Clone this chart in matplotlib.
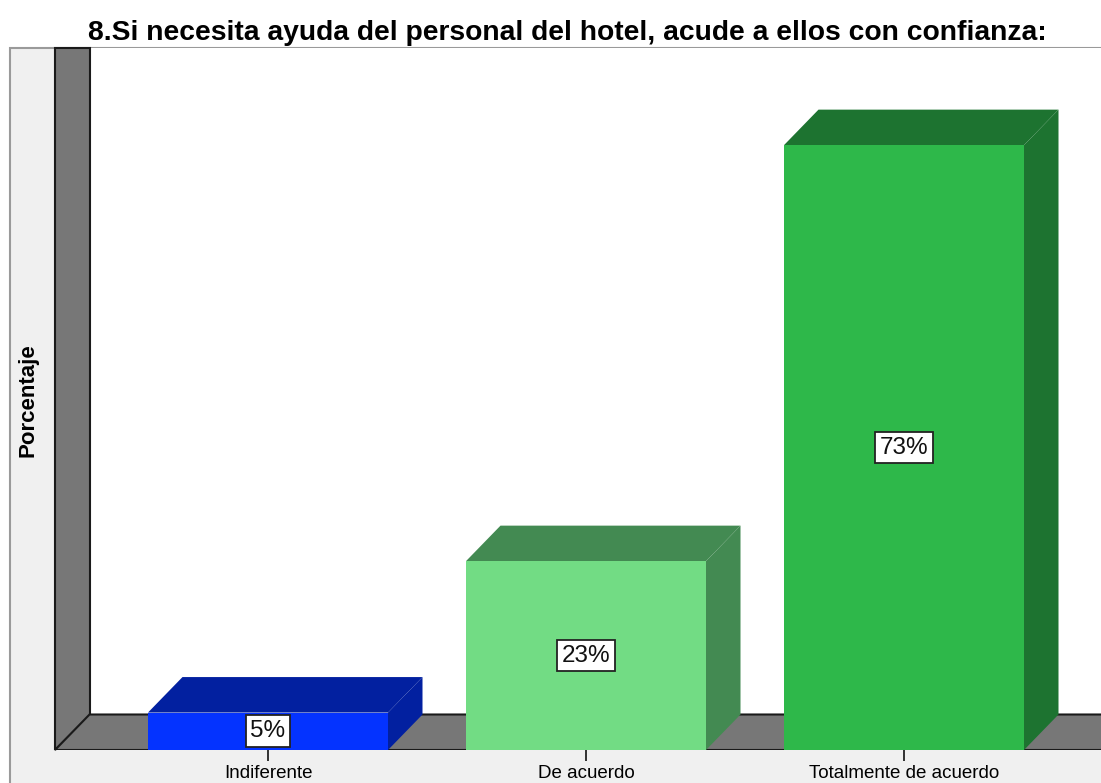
import matplotlib
matplotlib.use("Agg")
import matplotlib.pyplot as plt
from matplotlib.patches import Polygon, Rectangle

categories = ["Indiferente", "De acuerdo", "Totalmente de acuerdo"]
values = [4.5, 22.7, 72.7]
labels = ["5%", "23%", "73%"]
front_colors = ["#0433ff", "#72dc84", "#2eb84a"]
side_colors = ["#0220a0", "#438a52", "#1d7330"]

W, H = 1101, 783
fig = plt.figure(figsize=(W / 100, H / 100), dpi=100)
fig.patch.set_facecolor("white")

# light gray panel (background axes)
bg = fig.add_axes([0, 0, 1, 1], zorder=-5)
bg.set_xlim(0, W)
bg.set_ylim(H, 0)
bg.axis("off")
bg.add_patch(Rectangle((10, 48), W, H, facecolor="#f0f0f0",
                       edgecolor="#9a9a9a", linewidth=1.5))

# axes: front plane from x=55 to right edge, y=750 to 48 (pixels from top)
ax_l, ax_r, ax_t, ax_b = 55, 1101, 48, 750
ax = fig.add_axes([ax_l / W, (H - ax_b) / H, (ax_r - ax_l) / W, (ax_b - ax_t) / H], zorder=1)
ax.set_facecolor("none")

px_per_cat = 318.0
px_per_pct = 8.32
cx0 = 268.0
xmin = (ax_l - cx0) / px_per_cat
xmax = (ax_r - cx0) / px_per_cat
ymax = (ax_b - ax_t) / px_per_pct
ax.set_xlim(xmin, xmax)
ax.set_ylim(0, ymax)

DX = 34.5 / px_per_cat
DY = 35.5 / px_per_pct
bar_w = 240 / px_per_cat

for s in ax.spines.values():
    s.set_visible(False)

# back plane white
ax.add_patch(Rectangle((xmin + DX, DY), xmax - xmin, ymax, facecolor="white",
                       edgecolor="none", zorder=0))
# wall
ax.add_patch(Polygon([(xmin, 0), (xmin, ymax), (xmin + DX, ymax), (xmin + DX, DY)],
                     closed=True, facecolor="#777777", edgecolor="#1a1a1a",
                     linewidth=1.5, zorder=1, clip_on=False))
# floor
ax.add_patch(Polygon([(xmin, 0), (xmin + DX, DY), (xmax + 1, DY), (xmax + 1, 0)],
                     closed=True, facecolor="#777777", edgecolor="#1a1a1a",
                     linewidth=1.5, zorder=1, clip_on=True))

xs = list(range(len(categories)))
ax.bar(xs, values, width=bar_w, color=front_colors, zorder=3, linewidth=0)
for x, v, sc in zip(xs, values, side_colors):
    l, r = x - bar_w / 2, x + bar_w / 2
    top = [(l, v), (l + DX, v + DY), (r + DX, v + DY), (r, v)]
    side = [(r, 0), (r, v), (r + DX, v + DY), (r + DX, DY)]
    ax.add_patch(Polygon(top, closed=True, facecolor=sc, edgecolor="none", zorder=2))
    ax.add_patch(Polygon(side, closed=True, facecolor=sc, edgecolor="none", zorder=2))

for x, v, lab in zip(xs, values, labels):
    ax.text(x, v / 2, lab, ha="center", va="center", fontsize=17.5,
            family="Liberation Sans", color="#111111", zorder=5,
            bbox=dict(boxstyle="square,pad=0.2", facecolor="white",
                      edgecolor="#222222", linewidth=1.3))

ax.set_xticks(xs)
ax.set_xticklabels(categories, fontsize=13.5, family="Liberation Sans")
ax.tick_params(axis="x", length=8, width=1.3, color="#222222", pad=2.5)
ax.set_yticks([])

fig.text(567 / W, 1 - 33 / H,
         "8.Si necesita ayuda del personal del hotel, acude a ellos con confianza:",
         ha="center", va="center", fontsize=20.3, fontweight="bold",
         family="Liberation Sans")
fig.text(28 / W, 1 - 400 / H, "Porcentaje", rotation=90, ha="center", va="center",
         fontsize=16, fontweight="bold", family="Liberation Sans")

fig.savefig("out.png", dpi=100)
